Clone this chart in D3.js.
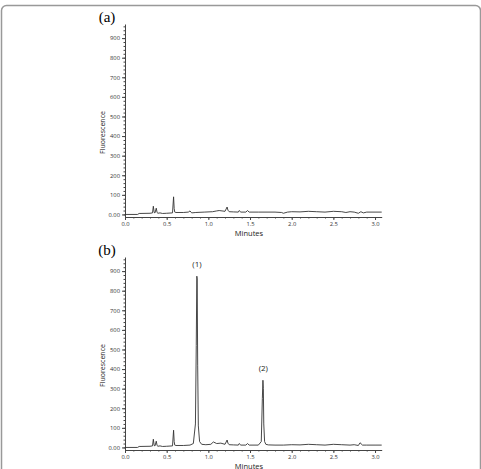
<!DOCTYPE html>
<html>
<head>
<meta charset="utf-8">
<script src="https://cdn.jsdelivr.net/npm/d3@7"></script>
<style>
  body { margin: 0; background: #fff; }
  svg { display: block; }
  .tick text { font-family: "Open Sans", sans-serif; font-size: 5.8px; fill: #333; }
  .axis path, .axis line { stroke: #444; }
</style>
</head>
<body>
<svg width="481" height="469"></svg>
<script>
// chromatogram (a) - blank
var timeA = [0.00, 0.15, 0.17, 0.30, 0.33, 0.34, 0.35, 0.36, 0.375, 0.385, 0.395, 0.42, 0.45, 0.50, 0.57, 0.583, 0.59, 0.597, 0.61, 0.70, 0.76, 0.78, 0.80, 0.85, 0.95, 1.05, 1.10, 1.13, 1.20, 1.225, 1.235, 1.25, 1.30, 1.36, 1.37, 1.39, 1.45, 1.47, 1.49, 1.60, 1.80, 1.88, 1.90, 1.95, 2.0, 2.1, 2.2, 2.3, 2.4, 2.5, 2.6, 2.65, 2.7, 2.75, 2.8, 2.83, 2.86, 2.9, 3.0, 3.08];
var valA  = [0, 0, 5, 6, 8, 42, 10, 8, 32, 10, 6, 8, 5, 6, 8, 90, 30, 12, 10, 10, 12, 18, 8, 10, 12, 14, 18, 20, 16, 38, 22, 14, 13, 12, 20, 12, 12, 20, 12, 12, 12, 10, 6, 12, 14, 13, 16, 14, 12, 16, 14, 10, 14, 12, 6, 14, 8, 12, 12, 12];

// chromatogram (b) - sample with peaks (1) and (2)
var timeB = [0.00, 0.15, 0.17, 0.30, 0.33, 0.34, 0.35, 0.36, 0.375, 0.385, 0.395, 0.42, 0.45, 0.50, 0.57, 0.583, 0.59, 0.597, 0.61, 0.70, 0.78, 0.82, 0.845, 0.855, 0.862, 0.866, 0.872, 0.88, 0.895, 0.92, 0.97, 1.03, 1.06, 1.10, 1.15, 1.20, 1.225, 1.235, 1.25, 1.30, 1.36, 1.37, 1.39, 1.45, 1.47, 1.49, 1.60, 1.635, 1.648, 1.655, 1.66, 1.665, 1.675, 1.69, 1.72, 1.80, 1.90, 2.0, 2.1, 2.2, 2.3, 2.4, 2.5, 2.6, 2.7, 2.75, 2.8, 2.82, 2.85, 2.9, 3.0, 3.08];
var valB  = [0, 0, 5, 6, 8, 42, 10, 8, 32, 10, 6, 8, 5, 6, 8, 88, 30, 12, 10, 10, 12, 20, 120, 520, 874, 860, 420, 110, 30, 16, 14, 16, 28, 20, 22, 16, 38, 22, 14, 13, 12, 20, 12, 12, 20, 12, 12, 30, 250, 343, 300, 120, 30, 16, 13, 12, 12, 14, 13, 16, 14, 12, 16, 14, 12, 14, 10, 24, 12, 12, 12, 12];

var xTicks = [0, 0.5, 1.0, 1.5, 2.0, 2.5, 3.0];
var yTicks = [0, 100, 200, 300, 400, 500, 600, 700, 800, 900];
var peakLabels = [{name: "(1)", t: 0.864, v: 874}, {name: "(2)", t: 1.66, v: 343}];

var svg = d3.select("svg");

// figure frame
svg.append("rect")
    .attr("x", 1.5).attr("y", 5.5)
    .attr("width", 479).attr("height", 480)
    .attr("rx", 5)
    .attr("fill", "none")
    .attr("stroke", "#999")
    .attr("stroke-width", 1.5);

var x = d3.scaleLinear().domain([0, 3.08]).range([125, 381.7]);

function drawPanel(label, times, values, yTop, yBottom, peaks) {
    var y = d3.scaleLinear().domain([-13, 972]).range([yBottom, yTop]);
    var g = svg.append("g");

    // minor ticks
    g.append("g")
        .attr("class", "axis")
        .attr("transform", "translate(0," + yBottom + ")")
        .call(d3.axisBottom(x).tickValues(d3.range(0, 3.05, 0.1)).tickSize(1.5).tickFormat(""))
        .select(".domain").remove();
    g.append("g")
        .attr("class", "axis")
        .attr("transform", "translate(125,0)")
        .call(d3.axisLeft(y).tickValues(d3.range(0, 961, 20)).tickSize(1.5).tickFormat(""))
        .select(".domain").remove();

    g.append("g")
        .attr("class", "axis")
        .attr("transform", "translate(0," + yBottom + ")")
        .call(d3.axisBottom(x).tickValues(xTicks).tickSize(3).tickSizeOuter(0).tickPadding(1.5)
            .tickFormat(d3.format(".1f")));

    g.append("g")
        .attr("class", "axis")
        .attr("transform", "translate(125,0)")
        .call(d3.axisLeft(y).tickValues(yTicks).tickSize(3).tickSizeOuter(0).tickPadding(2)
            .tickFormat(function(d) { return d === 0 ? "0.00" : d; }));

    var line = d3.line()
        .x(function(d, i) { return x(times[i]); })
        .y(function(d) { return y(d); });

    g.append("path")
        .attr("d", line(values))
        .attr("fill", "none")
        .attr("stroke", "#333")
        .attr("stroke-width", 0.9);

    g.append("text")
        .attr("x", 107).attr("y", yTop - 2)
        .attr("text-anchor", "middle")
        .attr("font-family", "Liberation Serif, serif")
        .attr("font-size", 15)
        .text(label);

    g.append("text")
        .attr("transform", "translate(105," + ((yTop + yBottom) / 2 + 12) + ") rotate(-90)")
        .attr("text-anchor", "middle")
        .attr("font-family", "Open Sans, sans-serif")
        .attr("font-size", 7)
        .attr("fill", "#222")
        .text("Fluorescence");

    g.append("text")
        .attr("x", 249).attr("y", yBottom + 18.5)
        .attr("text-anchor", "middle")
        .attr("font-family", "Open Sans, sans-serif")
        .attr("font-size", 7.5)
        .attr("fill", "#222")
        .text("Minutes");

    g.selectAll(".peak")
        .data(peaks)
        .enter().append("text")
        .attr("class", "peak")
        .attr("x", function(d) { return x(d.t); })
        .attr("y", function(d) { return y(d.v) - 9; })
        .attr("text-anchor", "middle")
        .attr("font-family", "Open Sans, sans-serif")
        .attr("font-size", 8)
        .attr("fill", "#222")
        .text(function(d) { return d.name; });
}

drawPanel("(a)", timeA, valA, 24, 217, []);
drawPanel("(b)", timeB, valB, 257, 450, peakLabels);
</script>
</body>
</html>
